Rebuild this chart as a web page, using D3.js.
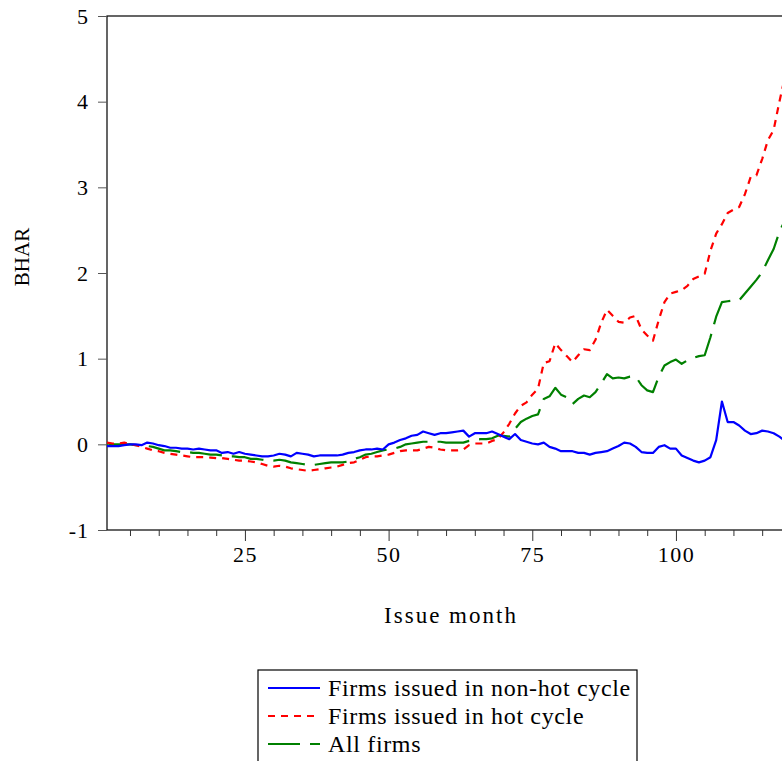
<!DOCTYPE html>
<html>
<head>
<meta charset="utf-8">
<script src="https://cdn.jsdelivr.net/npm/d3@7"></script>
<style>
  body { margin: 0; background: #fff; }
  svg { display: block; font-family: "Liberation Serif", "Times New Roman", serif; }
</style>
</head>
<body>
<div id="chart"></div>
<script>
/* DATA: BHAR by issue month (months 1..119) */
const months = d3.range(1, 120);

const nonHot = [
  -0.02, -0.02, -0.02, -0.01, 0.00, 0.00, -0.01, 0.02, 0.01, -0.01,
  -0.02, -0.04, -0.04, -0.05, -0.05, -0.06, -0.05, -0.06, -0.07, -0.07,
  -0.10, -0.09, -0.11, -0.09, -0.11, -0.12, -0.13, -0.14, -0.14, -0.13,
  -0.11, -0.12, -0.14, -0.10, -0.11, -0.12, -0.14, -0.13, -0.13, -0.13,
  -0.13, -0.12, -0.10, -0.09, -0.07, -0.06, -0.06, -0.05, -0.06, 0.00,
  0.02, 0.05, 0.07, 0.10, 0.11, 0.15, 0.13, 0.11, 0.13, 0.13,
  0.14, 0.15, 0.16, 0.09, 0.13, 0.13, 0.13, 0.15, 0.12, 0.09,
  0.06, 0.12, 0.05, 0.03, 0.01, 0.00, 0.02, -0.03, -0.05, -0.08,
  -0.08, -0.08, -0.10, -0.10, -0.12, -0.10, -0.09, -0.08, -0.05, -0.02,
  0.02, 0.01, -0.03, -0.09, -0.10, -0.10, -0.03, -0.01, -0.05, -0.05,
  -0.13, -0.16, -0.19, -0.21, -0.19, -0.15, 0.05, 0.50, 0.26, 0.26,
  0.22, 0.16, 0.12, 0.13, 0.16, 0.15, 0.13, 0.09, 0.04
];

const hot = [
  0.02, 0.01, 0.01, 0.02, 0.00, -0.01, -0.03, -0.05, -0.07, -0.08,
  -0.10, -0.11, -0.12, -0.13, -0.14, -0.15, -0.15, -0.15, -0.155, -0.16,
  -0.16, -0.17, -0.18, -0.19, -0.19, -0.20, -0.21, -0.23, -0.25, -0.26,
  -0.25, -0.26, -0.28, -0.29, -0.30, -0.31, -0.30, -0.29, -0.28, -0.27,
  -0.26, -0.24, -0.22, -0.21, -0.18, -0.15, -0.14, -0.14, -0.13, -0.12,
  -0.10, -0.08, -0.07, -0.07, -0.07, -0.05, -0.03, -0.04, -0.06, -0.07,
  -0.07, -0.07, -0.06, -0.01, 0.01, 0.01, 0.01, 0.04, 0.06, 0.14,
  0.24, 0.36, 0.45, 0.49, 0.58, 0.65, 0.95, 0.97, 1.18, 1.10,
  1.03, 0.96, 1.04, 1.11, 1.10, 1.22, 1.42, 1.57, 1.50, 1.43,
  1.42, 1.48, 1.50, 1.34, 1.27, 1.21, 1.45, 1.66, 1.76, 1.78,
  1.80, 1.85, 1.93, 1.96, 1.99, 2.26, 2.46, 2.57, 2.70, 2.74,
  2.77, 2.92, 3.12, 3.14, 3.33, 3.55, 3.67, 4.00, 4.30
];

const allFirms = [
  0.01, 0.00, 0.00, 0.00, 0.00, -0.01, -0.01, -0.02, -0.03, -0.05,
  -0.07, -0.07, -0.08, -0.09, -0.09, -0.10, -0.10, -0.11, -0.12, -0.12,
  -0.13, -0.14, -0.14, -0.15, -0.15, -0.17, -0.17, -0.18, -0.19, -0.19,
  -0.18, -0.19, -0.21, -0.22, -0.23, -0.24, -0.24, -0.23, -0.22, -0.21,
  -0.21, -0.21, -0.20, -0.17, -0.15, -0.12, -0.11, -0.09, -0.07, -0.06,
  -0.05, -0.03, 0.00, 0.01, 0.02, 0.03, 0.03, 0.03, 0.03, 0.02,
  0.02, 0.02, 0.02, 0.04, 0.05, 0.06, 0.06, 0.07, 0.10, 0.10,
  0.09, 0.18, 0.26, 0.30, 0.33, 0.35, 0.53, 0.56, 0.66, 0.58,
  0.55, 0.47, 0.53, 0.57, 0.55, 0.61, 0.71, 0.82, 0.77, 0.78,
  0.77, 0.79, 0.79, 0.69, 0.63, 0.61, 0.79, 0.92, 0.96, 0.99,
  0.94, 0.98, 1.01, 1.03, 1.04, 1.25, 1.49, 1.66, 1.67, 1.68,
  1.68, 1.76, 1.84, 1.92, 2.01, 2.15, 2.28, 2.48, 2.62
];

const seriesNames = ["Firms issued in non-hot cycle", "Firms issued in hot cycle", "All firms"];
const seriesColors = ["#0000ff", "#ff0000", "#008000"];
const seriesDash = [null, "7,6", "32,10"];
const yTicks = [-1, 0, 1, 2, 3, 4, 5];
const xMajorTicks = [25, 50, 75, 100];

/* CONSTANTS */
const width = 782, height = 761;
const margin = {top: 16, left: 107, bottom: 530};
const serif = "'Liberation Serif', 'Times New Roman', serif";

const series = [nonHot, hot, allFirms].map((vals, i) => ({
  name: seriesNames[i],
  color: seriesColors[i],
  dash: seriesDash[i],
  values: months.map((m, j) => ({month: m, v: vals[j]}))
}));

const svg = d3.select("#chart")
  .append("svg")
  .attr("width", width)
  .attr("height", height);

const x = d3.scaleLinear()
  .domain([1, 120])
  .range([margin.left, margin.left + 119 * 5.747]);

const y = d3.scaleLinear()
  .domain([-1, 5])
  .range([margin.bottom, margin.top]);

// plot frame
svg.append("rect")
  .attr("x", x(1))
  .attr("y", y(5))
  .attr("width", x(120) - x(1))
  .attr("height", y(-1) - y(5))
  .attr("fill", "none")
  .attr("stroke", "#000")
  .attr("stroke-width", 1.2);

// y axis
const yAxis = d3.axisLeft(y).tickValues(yTicks).tickSize(9).tickPadding(9).tickFormat(d => String(d));
svg.append("g")
  .attr("transform", `translate(${x(1)},0)`)
  .call(yAxis)
  .attr("font-family", serif)
  .call(g => g.select(".domain").remove())
  .call(g => g.selectAll(".tick line").attr("stroke", "#555"))
  .call(g => g.selectAll("text").style("font-size", "22px").style("letter-spacing", "1px").attr("fill", "#000"));

// x axis: minor ticks every 5 months, majors labelled
const xMinor = d3.axisBottom(x).tickValues(d3.range(5, 120, 5).filter(d => !xMajorTicks.includes(d))).tickSize(6).tickFormat("");
svg.append("g")
  .attr("transform", `translate(0,${y(-1)})`)
  .call(xMinor)
  .call(g => g.select(".domain").remove())
  .call(g => g.selectAll(".tick line").attr("stroke", "#333"));

const xAxis = d3.axisBottom(x).tickValues(xMajorTicks).tickSize(11).tickPadding(5).tickFormat(d => String(d));
svg.append("g")
  .attr("transform", `translate(0,${y(-1)})`)
  .call(xAxis)
  .attr("font-family", serif)
  .call(g => g.select(".domain").remove())
  .call(g => g.selectAll(".tick line").attr("stroke", "#333"))
  .call(g => g.selectAll("text").style("font-size", "22px").style("letter-spacing", "1.5px").attr("fill", "#000"));

// clip to plot area
svg.append("clipPath").attr("id", "plot-clip")
  .append("rect")
  .attr("x", x(1)).attr("y", y(5))
  .attr("width", x(120) - x(1)).attr("height", y(-1) - y(5));

const line = d3.line()
  .x(d => x(d.month))
  .y(d => y(d.v));

svg.append("g")
  .attr("clip-path", "url(#plot-clip)")
  .selectAll("path.series")
  .data([series[2], series[1], series[0]])
  .join("path")
  .attr("class", "series")
  .attr("d", d => line(d.values))
  .attr("fill", "none")
  .attr("stroke", d => d.color)
  .attr("stroke-width", 2.2)
  .attr("stroke-dasharray", d => d.dash)
  .attr("stroke-linejoin", "round");

// axis titles
svg.append("text")
  .text("BHAR")
  .attr("transform", `translate(29,257) rotate(-90)`)
  .attr("text-anchor", "middle")
  .style("font-size", "21px");

svg.append("text")
  .text("Issue month")
  .attr("x", 451)
  .attr("y", 623)
  .attr("text-anchor", "middle")
  .style("font-size", "23px")
  .style("letter-spacing", "2px");

// legend
const legend = svg.append("g").attr("transform", "translate(258,670)");
legend.append("rect")
  .attr("x", 0).attr("y", 0)
  .attr("width", 379).attr("height", 110)
  .attr("fill", "#fff")
  .attr("stroke", "#000")
  .attr("stroke-width", 1.2);

const item = legend.selectAll("g.item")
  .data(series)
  .join("g")
  .attr("class", "item")
  .attr("transform", (d, i) => `translate(0,${18 + i * 28})`);

item.append("line")
  .attr("x1", 10).attr("x2", 62)
  .attr("stroke", d => d.color)
  .attr("stroke-width", 2.2)
  .attr("stroke-dasharray", d => d.dash);

item.append("text")
  .text(d => d.name)
  .attr("x", 70)
  .attr("dy", "0.35em")
  .style("font-size", "24px")
  .style("letter-spacing", "0.65px");
</script>
</body>
</html>
